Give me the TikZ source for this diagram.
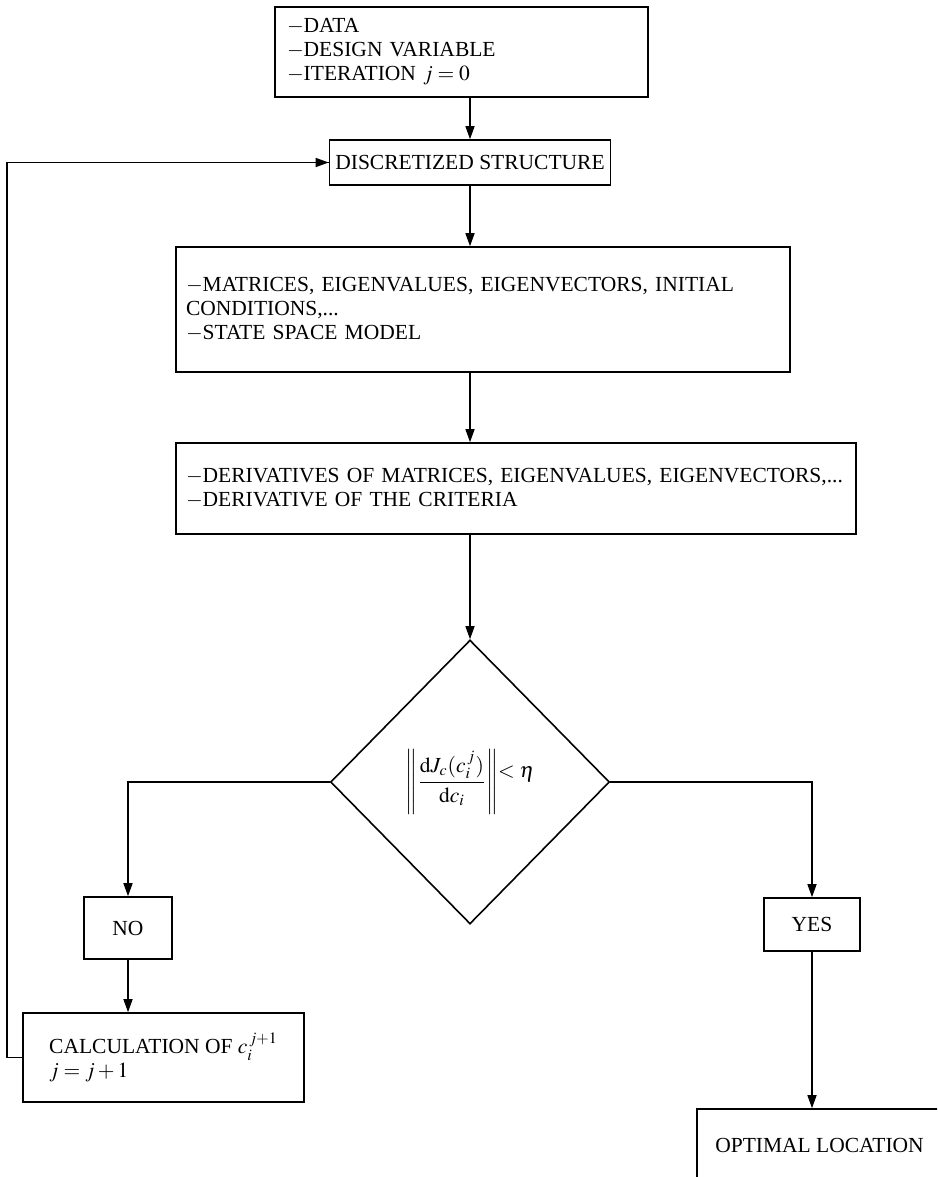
\documentclass[tikz,border=0pt]{standalone}
\usepackage{amsmath}
\usepackage{mathptmx}
\usepackage{fontspec}
\setmainfont{Liberation Serif}
\usepackage{tikz}
\usetikzlibrary{shapes,arrows,positioning,calc,arrows.meta}

\begin{document}
\begin{tikzpicture}[x=0.5pt, y=-0.5pt,
    font=\fontsize{10.75pt}{12pt}\selectfont,
    box/.style={draw, line width=0.8pt, rectangle, inner sep=0pt},
    textbox/.style={box, align=left, inner xsep=5pt},
    choice/.style={draw, line width=0.8pt, diamond, inner sep=0pt},
    arr/.style={line width=0.7pt, -{Triangle[length=6.5pt, width=4.5pt]}},
    link/.style={line width=0.7pt}]
    \clip (0,0) rectangle (937,1177);

    % Start
    \node [textbox, inner xsep=6pt, minimum width=186.5pt, minimum height=45pt, text width=174.5pt] (start) at (461.5,52)
        {$-$DATA\\ $-$DESIGN VARIABLE\\ $-$ITERATION $j=0$\\[4pt]};

    % Model
    \node [box, minimum width=140.5pt, minimum height=22.5pt] (disc) at (470,162.5) {DISCRETIZED STRUCTURE};
    \node [textbox, minimum width=307pt, minimum height=62.5pt, text width=297pt] (modal) at (483,309.5)
        {$-$MATRICES, EIGENVALUES, EIGENVECTORS, INITIAL\\ CONDITIONS,...\\ $-$STATE SPACE MODEL};
    \node [textbox, minimum width=340pt, minimum height=45.5pt, text width=330pt] (deriv) at (516,488.5)
        {$-$DERIVATIVES OF MATRICES, EIGENVALUES, EIGENVECTORS,...\\ $-$DERIVATIVE OF THE CRITERIA};

    % Test
    \node [choice, minimum width=139.5pt, minimum height=142pt] (test) at (470,782)
        {$\left\|\dfrac{\mathrm{d}J_c(c_i^{\,j})}{\mathrm{d}c_i}\right\|$\raisebox{5pt}{$<\eta$}};

    % Branches
    \node [box, minimum width=44pt, minimum height=31pt] (no) at (128,928) {NO};
    \node [box, minimum width=48pt, minimum height=26.5pt] (yes) at (812,924.5) {YES};
    \node [box, align=left, minimum width=140.5pt, minimum height=44.5pt] (calc) at (163.5,1057.5)
        {CALCULATION OF $c_i^{\,j+1}$\\ $j=j+1$};
    \node [box, minimum width=122.5pt, minimum height=36pt] (opt) at (819.5,1145) {OPTIMAL LOCATION};
    \coordinate (back) at (7,1057.5);

    % Arrows
    \draw [arr] (start.south -| disc.north) -- (disc.north);
    \draw [arr] (disc.south) -- (disc.south |- modal.north);
    \draw [arr] (disc.south |- modal.south) -- (disc.south |- deriv.north);
    \draw [arr] (disc.south |- deriv.south) -- (test.north);
    \draw [arr] (test.west) -| (no.north);
    \draw [arr] (test.east) -| (yes.north);
    \draw [arr] (no.south) -- (no.south |- calc.north);
    \draw [arr] (yes.south) -- (yes.south |- opt.north);
    \draw [link] (calc.west) -- (back) |- (disc.west);
    \draw [arr] (back |- disc.west) -- (disc.west);
\end{tikzpicture}
\end{document}
